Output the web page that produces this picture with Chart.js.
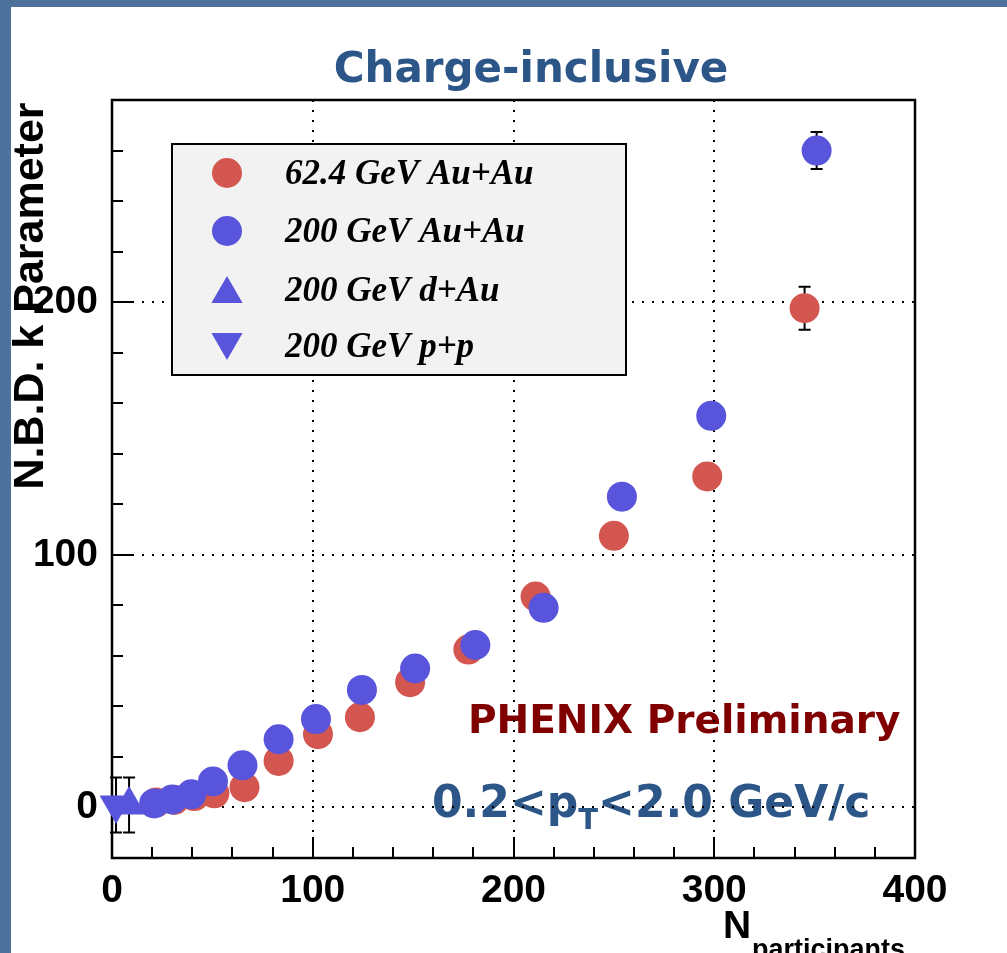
<!DOCTYPE html>
<html>
<head>
<meta charset="utf-8">
<title>Charge-inclusive</title>
<script src="https://cdn.jsdelivr.net/npm/chart.js@4.4.1/dist/chart.umd.min.js"></script>
<style>
  html, body { margin: 0; padding: 0; background: #fff; }
  #frame { position: relative; width: 1007px; height: 953px; overflow: hidden; background: #fff; }
  .band-left { position: absolute; left: 0; top: 0; width: 11px; height: 953px; background: #4f729c; }
  .band-top { position: absolute; left: 0; top: 0; width: 1007px; height: 7px; background: #4f729c; }
  #kChart { position: absolute; left: 0; top: 0; }
</style>
</head>
<body>
<div id="frame">
  <div class="band-left"></div>
  <div class="band-top"></div>
  <canvas id="kChart" width="1007" height="953"></canvas>
</div>
<script>
// NBD k parameter vs N_participants
const npartAu62 = [22, 31, 41, 51, 66, 83, 102.6, 123.5, 148.5, 177.5, 211, 250, 296.5, 345];
const kAu62     = [2, 3, 4.5, 5.6, 8, 18.4, 29, 35.7, 49.6, 62.5, 83.5, 107.5, 131, 197.6];
const errAu62   = [1, 1, 1.5, 1.5, 2, 2, 2.5, 3, 3.5, 4, 4.5, 5, 5, 8.5];

const npartAu200 = [21, 30, 39.5, 50.3, 65, 83, 101.6, 124.5, 151, 181, 215, 254, 298.5, 351];
const kAu200     = [1.6, 3.2, 5.2, 10.3, 16.7, 27, 35, 46.5, 55, 64.3, 79, 123, 155, 260];
const errAu200   = [1, 1, 1.5, 1.5, 2, 2, 2.5, 3, 3.5, 4, 4.5, 5, 5, 7.3];

const npartDAu = [8.5];
const kDAu     = [1];
const errDAu   = [10.9];

const npartPP = [2];
const kPP     = [1];
const errPP   = [10.9];

const legendLabels = ['62.4 GeV Au+Au', '200 GeV Au+Au', '200 GeV d+Au', '200 GeV p+p'];
const xTickLabels = [0, 100, 200, 300, 400];
const yTickLabels = [0, 100, 200];

const RED = 'rgb(212,86,80)';
const BLUE = 'rgb(88,84,220)';

function pts(xs, ys) {
  return xs.map((x, i) => ({ x, y: ys[i] }));
}

function marker(ctx, style, x, y, r, rot) {
  ctx.beginPath();
  if (style === 'circle') {
    ctx.arc(x, y, r, 0, Math.PI * 2);
  } else {
    let a = (rot || 0) * Math.PI / 180;
    ctx.moveTo(x + Math.sin(a) * r, y - Math.cos(a) * r);
    a += Math.PI * 2 / 3;
    ctx.lineTo(x + Math.sin(a) * r, y - Math.cos(a) * r);
    a += Math.PI * 2 / 3;
    ctx.lineTo(x + Math.sin(a) * r, y - Math.cos(a) * r);
    ctx.closePath();
  }
  ctx.fill();
}

// textes, cadre, ticks internes, barres d'erreur et legende facon ROOT
const rootStyle = {
  id: 'rootStyle',
  beforeDraw(chart) {
    const ctx = chart.ctx;
    ctx.save();
    ctx.textBaseline = 'alphabetic';
    ctx.fillStyle = '#2d5688';
    ctx.font = 'bold 42px "DejaVu Sans"';
    ctx.textAlign = 'center';
    ctx.fillText('Charge-inclusive', 531, 82);

    ctx.textAlign = 'left';
    ctx.fillStyle = '#800000';
    ctx.font = 'bold 39px "DejaVu Sans"';
    ctx.fillText('PHENIX Preliminary', 468, 733);

    ctx.fillStyle = '#2d5688';
    ctx.font = 'bold 44px "DejaVu Sans"';
    let x = 432;
    ctx.fillText('0.2<p', x, 817);
    x += ctx.measureText('0.2<p').width;
    ctx.font = 'bold 29px "DejaVu Sans"';
    ctx.fillText('T', x, 829);
    x += ctx.measureText('T').width;
    ctx.font = 'bold 44px "DejaVu Sans"';
    ctx.fillText('<2.0 GeV/c', x, 817);
    ctx.restore();
  },
  beforeDatasetsDraw(chart) {
    const { ctx, chartArea: a } = chart;
    const xs = chart.scales.x, ys = chart.scales.y;
    ctx.save();
    ctx.strokeStyle = '#000';
    ctx.lineWidth = 2;
    // ticks internes
    ctx.beginPath();
    for (let v = 20; v < 400; v += 20) {
      const px = Math.round(xs.getPixelForValue(v));
      const len = v % 100 === 0 ? 21 : 11;
      ctx.moveTo(px, a.bottom);
      ctx.lineTo(px, a.bottom - len);
    }
    for (let v = 0; v < 280; v += 20) {
      const py = Math.round(ys.getPixelForValue(v));
      const len = v % 100 === 0 ? 21 : 11;
      ctx.moveTo(a.left, py);
      ctx.lineTo(a.left + len, py);
    }
    ctx.stroke();
    ctx.lineWidth = 2.5;
    ctx.strokeRect(a.left, a.top, a.right - a.left, a.bottom - a.top);

    // barres d'erreur
    ctx.lineWidth = 2;
    chart.data.datasets.forEach(ds => {
      ds.data.forEach((p, i) => {
        const e = ds.errors[i];
        const px = xs.getPixelForValue(p.x);
        const t = ys.getPixelForValue(p.y + e);
        const b = ys.getPixelForValue(p.y - e);
        ctx.beginPath();
        ctx.moveTo(px, t); ctx.lineTo(px, b);
        ctx.moveTo(px - 6, t); ctx.lineTo(px + 6, t);
        ctx.moveTo(px - 6, b); ctx.lineTo(px + 6, b);
        ctx.stroke();
      });
    });
    ctx.restore();
  },
  afterDatasetsDraw(chart) {
    const ctx = chart.ctx;
    ctx.save();
    // legende
    ctx.fillStyle = '#f2f2f2';
    ctx.fillRect(172, 144, 454, 231);
    ctx.strokeStyle = '#000';
    ctx.lineWidth = 2;
    ctx.strokeRect(172, 144, 454, 231);
    const rows = [173, 231, 290, 346];
    const styles = [
      { c: RED, s: 'circle', r: 15, rot: 0 },
      { c: BLUE, s: 'circle', r: 15, rot: 0 },
      { c: BLUE, s: 'triangle', r: 18, rot: 0 },
      { c: BLUE, s: 'triangle', r: 18, rot: 180 },
    ];
    ctx.font = 'italic bold 35px "Liberation Serif"';
    ctx.textBaseline = 'middle';
    ctx.textAlign = 'left';
    legendLabels.forEach((lab, i) => {
      const st = styles[i];
      ctx.fillStyle = st.c;
      const off = st.s === 'triangle' ? (st.rot ? -4 : 4) : 0;
      marker(ctx, st.s, 227, rows[i] + off, st.r, st.rot);
      ctx.fillStyle = '#000';
      ctx.fillText(lab, 285, rows[i] + 2);
    });

    // titres des axes
    ctx.textBaseline = 'alphabetic';
    ctx.font = 'bold 39px "Liberation Sans"';
    ctx.fillText('N', 723, 938);
    ctx.font = 'bold 27px "Liberation Sans"';
    ctx.fillText('participants', 752, 958);

    ctx.translate(43, 296);
    ctx.rotate(-Math.PI / 2);
    ctx.textAlign = 'center';
    ctx.font = 'bold 43px "Liberation Sans"';
    ctx.fillText('N.B.D. k Parameter', 0, 0);
    ctx.restore();
  }
};

const tickFont = { family: '"Liberation Sans"', size: 39, weight: 'bold' };

new Chart(document.getElementById('kChart'), {
  type: 'scatter',
  data: {
    datasets: [
      { label: legendLabels[0], data: pts(npartAu62, kAu62), errors: errAu62, order: 3,
        backgroundColor: RED, borderWidth: 0, pointRadius: 15, pointHoverRadius: 15, pointStyle: 'circle', clip: false },
      { label: legendLabels[1], data: pts(npartAu200, kAu200), errors: errAu200, order: 2,
        backgroundColor: BLUE, borderWidth: 0, pointRadius: 15, pointHoverRadius: 15, pointStyle: 'circle', clip: false },
      { label: legendLabels[2], data: pts(npartDAu, kDAu), errors: errDAu, order: 1,
        backgroundColor: BLUE, borderWidth: 0, pointRadius: 19, pointHoverRadius: 19, pointStyle: 'triangle', clip: false },
      { label: legendLabels[3], data: pts(npartPP, kPP), errors: errPP, order: 0,
        backgroundColor: BLUE, borderWidth: 0, pointRadius: 19, pointHoverRadius: 19, pointStyle: 'triangle', rotation: 180, clip: false },
    ],
  },
  options: {
    responsive: false,
    animation: false,
    events: [],
    layout: { padding: { left: 0, top: 100, right: 92, bottom: 0 }, autoPadding: false },
    plugins: { legend: { display: false }, tooltip: { enabled: false }, title: { display: false } },
    scales: {
      x: {
        type: 'linear', min: 0, max: 400,
        afterBuildTicks: s => { s.ticks = xTickLabels.map(v => ({ value: v })); },
        afterFit: s => { s.height = 95; },
        ticks: { font: tickFont, color: '#000', padding: 10, maxRotation: 0 },
        grid: {
          drawTicks: false, lineWidth: 2,
          color: c => (c.tick && (c.tick.value === 0 || c.tick.value === 400)) ? 'rgba(0,0,0,0)' : '#000',
        },
        border: { display: false, dash: [2, 8] },
      },
      y: {
        type: 'linear', min: -20, max: 280,
        afterBuildTicks: s => { s.ticks = yTickLabels.map(v => ({ value: v })); },
        afterFit: s => { s.width = 112; },
        ticks: { font: tickFont, color: '#000', padding: 14 },
        grid: { drawTicks: false, lineWidth: 2, color: '#000' },
        border: { display: false, dash: [2, 8] },
      },
    },
  },
  plugins: [rootStyle],
});
</script>
</body>
</html>
